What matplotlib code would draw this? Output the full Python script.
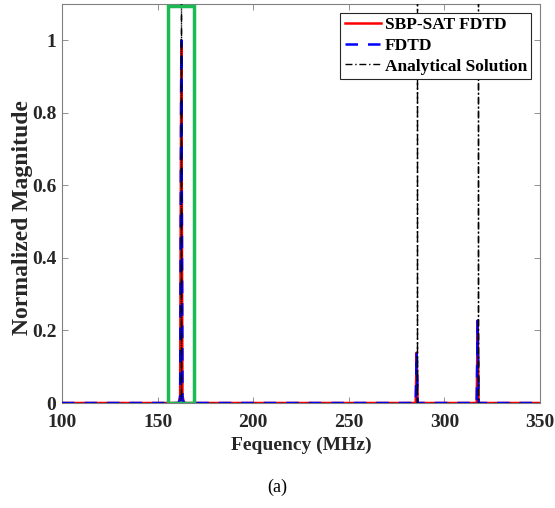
import numpy as np
import matplotlib.pyplot as plt
from matplotlib.patches import Rectangle

# =========================
# Data
# =========================
freq = [100, 161.0, 161.8, 162.4, 163.0, 163.8, 285.0, 285.5, 286.0,
        316.9, 317.4, 317.9, 350]
sbp_mag = [0, 0, 0.02, 1.0, 0.02, 0, 0, 0.139, 0, 0, 0.227, 0, 0]
fdtd_mag = [0, 0, 0.01, 1.0, 0.01, 0, 0, 0.139, 0, 0, 0.227, 0, 0]
analytic_freq = [162.4, 285.5, 317.4]
box_range = [155.3, 169.0]

plt.rcParams['font.family'] = ['Liberation Serif', 'DejaVu Serif']
plt.rcParams['font.weight'] = 'bold'

fig = plt.figure(figsize=(5.55, 5.08), dpi=100)
ax = fig.add_axes([62 / 555, 105 / 508, 478 / 555, 399 / 508])

ax.plot(freq, sbp_mag, color='red', lw=1.8, label='SBP-SAT FDTD', zorder=3)
ax.plot(freq, fdtd_mag, color='blue', lw=1.8, ls=(0, (5, 4)), label='FDTD', zorder=4)

# analytical: deltas drawn as vertical lines
a_x, a_y = [100], [0]
for f in analytic_freq:
    a_x += [f, f, f]
    a_y += [0, 1.2, 0]
a_x.append(350)
a_y.append(0)
ax.plot(a_x, a_y, color='black', lw=1, ls=(0, (5, 2, 1, 2)),
        label='Analytical Solution', zorder=5)

# green highlight box round the main peak
ax.add_patch(Rectangle((box_range[0], 0), box_range[1] - box_range[0], 1.095,
                       fill=False, edgecolor='#1db954', lw=2.5, zorder=6))

ax.set_xlim(100, 350)
ax.set_ylim(0, 1.1)
ax.set_xticks([100, 150, 200, 250, 300, 350])
ax.set_yticks([0, 0.2, 0.4, 0.6, 0.8, 1])
ax.set_yticklabels(['0', '0.2', '0.4', '0.6', '0.8', '1'])
ax.tick_params(direction='in', top=True, right=True, labelsize=14,
               colors='#262626', length=4, width=0.6, color='#808080')
ax.tick_params(axis='x', pad=8)
ax.tick_params(axis='y', pad=4)
for s in ax.spines.values():
    s.set_color('#808080')
    s.set_linewidth(0.8)

ax.set_xlabel('Fequency (MHz)', fontsize=14, fontweight='bold', color='#262626', labelpad=4)
ax.set_ylabel('Normalized Magnitude', fontsize=17, fontweight='bold', color='#262626')
ax.yaxis.set_label_coords(-0.061, 0.4637)

leg = ax.legend(loc='upper right', fontsize=12.5, handlelength=2.1, handletextpad=0.2,
                borderpad=0.25, labelspacing=0.26, fancybox=False, framealpha=1,
                borderaxespad=0.5)
leg.get_frame().set_edgecolor('#262626')
leg.get_frame().set_linewidth(0.8)

fig.text(0.5, 0.041, '(a)', ha='center', va='center', fontsize=13, fontweight='normal')

fig.savefig('out.png', dpi=100)
